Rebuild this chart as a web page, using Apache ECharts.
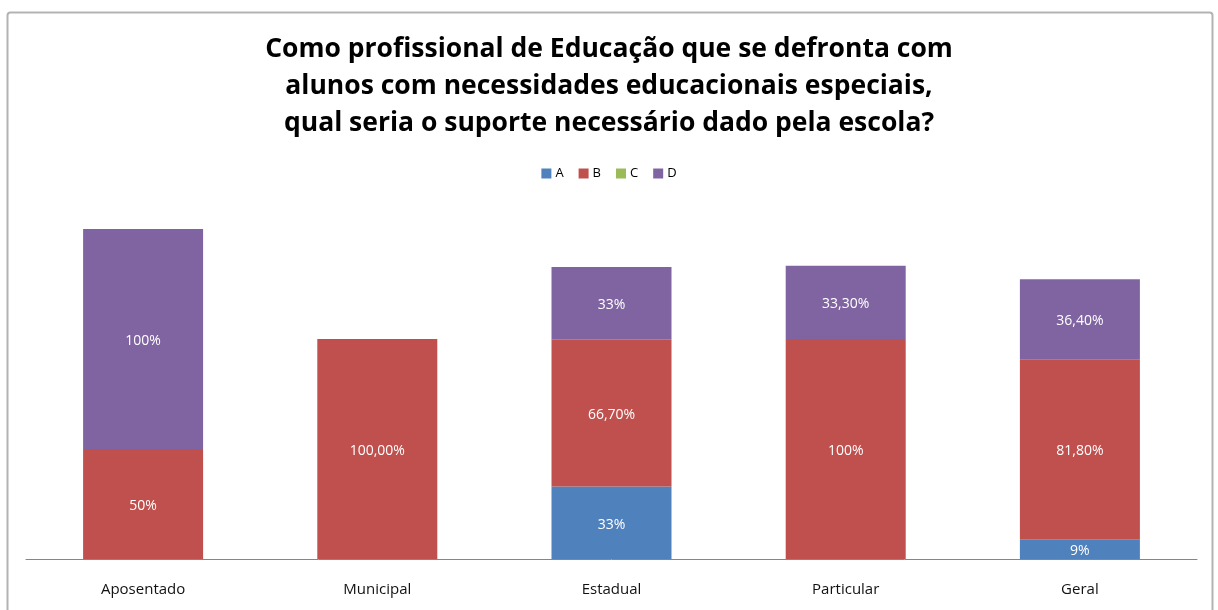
<!DOCTYPE html>
<html>
<head>
<meta charset="utf-8">
<script src="https://cdn.jsdelivr.net/npm/echarts@6/dist/echarts.min.js"></script>
<style>html,body{margin:0;padding:0;background:#fff}#c{width:1218px;height:610px}</style>
</head>
<body>
<div id="c"></div>
<script>
const categories = ['Aposentado', 'Municipal', 'Estadual', 'Particular', 'Geral'];
const seriesNames = ['A', 'B', 'C', 'D'];
const valuesA = [0, 0, 33, 0, 9];
const valuesB = [50, 100, 66.7, 100, 81.8];
const valuesC = [0, 0, 0, 0, 0];
const valuesD = [100, 0, 33, 33.3, 36.4];
const labelsA = ['', '', '33%', '', '9%'];
const labelsB = ['50%', '100,00%', '66,70%', '100%', '81,80%'];
const labelsC = ['', '', '', '', ''];
const labelsD = ['100%', '', '33%', '33,30%', '36,40%'];
const titleText = 'Como profissional de Educação que se defronta com\nalunos com necessidades educacionais especiais,\nqual seria o suporte necessário dado pela escola?';

const colors = ['#4F81BD', '#C0504D', '#9BBB59', '#8064A2'];
const allValues = [valuesA, valuesB, valuesC, valuesD];
const allLabels = [labelsA, labelsB, labelsC, labelsD];

const chart = echarts.init(document.getElementById('c'));
chart.setOption({
  animation: false,
  title: {
    text: titleText,
    left: 'center',
    top: 26,
    textStyle: {fontFamily: 'Open Sans', fontWeight: 'bold', fontSize: 26.5, lineHeight: 37, color: '#000'}
  },
  graphic: [{
    type: 'rect',
    shape: {x: 7.5, y: 12.5, width: 1205, height: 610, r: 3},
    style: {fill: 'none', stroke: '#b3b3b3', lineWidth: 2},
    silent: true
  }],
  legend: {
    data: seriesNames,
    top: 162,
    left: 'center',
    itemWidth: 10,
    itemHeight: 10,
    itemGap: 15,
    icon: 'rect',
    textStyle: {fontFamily: 'Open Sans', fontSize: 13, color: '#000', padding: [0, 0, 0, -1]}
  },
  grid: {left: 26, right: 21, top: 229, bottom: 51},
  xAxis: {
    type: 'category',
    data: categories,
    axisLine: {lineStyle: {color: '#868686', width: 1}},
    axisTick: {show: false},
    axisLabel: {fontFamily: 'Open Sans', fontSize: 15, color: '#111', margin: 23}
  },
  yAxis: {
    type: 'value', min: 0, max: 150,
    show: false,
    splitLine: {show: false}
  },
  series: seriesNames.map((n, i) => ({
    name: n,
    type: 'bar',
    stack: 'total',
    barWidth: 120,
    data: allValues[i],
    itemStyle: {color: colors[i]},
    label: {
      show: true,
      position: 'inside',
      offset: [0, 2],
      color: '#fff',
      fontFamily: 'Open Sans',
      fontSize: 14,
      formatter: p => allLabels[i][p.dataIndex]
    }
  }))
});
</script>
</body>
</html>
